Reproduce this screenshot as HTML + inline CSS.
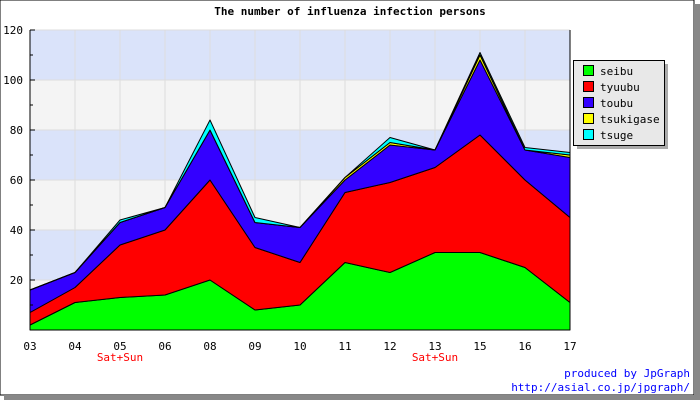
<!DOCTYPE html>
<html><head><meta charset="utf-8"><style>
body{margin:0;background:#fff}
svg text{font-family:"DejaVu Sans Mono","Liberation Mono",monospace;font-size:11px}
</style></head><body>
<svg id="chart" width="700" height="400" xmlns="http://www.w3.org/2000/svg">
<rect x="0" y="0" width="694" height="395" fill="#fff" stroke="#000" stroke-width="1"/>
<rect x="694" y="4" width="6" height="396" fill="#888"/>
<rect x="4" y="395" width="696" height="5" fill="#888"/>
<text x="350" y="15" text-anchor="middle" font-weight="bold" style="font-size:11px">The number of influenza infection persons</text>
<g id="bands"></g><g id="grid"></g><g id="areas"></g><g id="axes"></g>
<g>
<rect x="577" y="64" width="91" height="85" fill="#aaa"/>
<rect x="573.5" y="60.5" width="91" height="85" fill="#e8e8e8" stroke="#000"/>
<g id="legend"></g>
</g>
<text x="690" y="377" text-anchor="end" fill="#00f">produced by JpGraph</text>
<text x="690" y="391" text-anchor="end" fill="#00f">http://asial.co.jp/jpgraph/</text>
</svg>
<script>
const categories=["03","04","05","06","08","09","10","11","12","13","15","16","17"];
const seibu=[2,11,13,14,20,8,10,27,23,31,31,25,11];
const tyuubu=[5,6,21,26,40,25,17,28,36,34,47,35,34];
const toubu=[9,6,9,9,20,10,14,5,15,7,30,12,24];
const tsukigase=[0,0,0,0,0,0,0,1,1,0,2,0,1];
const tsuge=[0,0,1,0,4,2,0,0,2,0,1,1,1];
const seriesNames=["seibu","tyuubu","toubu","tsukigase","tsuge"];
const seriesColors=["#00ff00","#ff0000","#3300ff","#ffff00","#00ffff"];
const yTicks=[20,40,60,80,100,120];
const weekendLabels=["05","13"];
const NS="http://www.w3.org/2000/svg";
const X0=30,X1=570,Y0=330,Y1=30,YMAX=120;
const xs=i=>X0+i*(X1-X0)/(categories.length-1);
const ys=v=>Y0-v*(Y0-Y1)/YMAX;
function mk(p,t,a){const e=document.createElementNS(NS,t);for(const k in a)e.setAttribute(k,a[k]);p.appendChild(e);return e;}
const bands=document.getElementById('bands');
for(let v=0;v<YMAX;v+=20){
 const r=mk(bands,'rect',{x:X0,y:ys(v+20),width:X1-X0,height:ys(v)-ys(v+20),fill:(v/20)%2?'#dae3fa':'#f4f4f4'});
 
 
}
const grid=document.getElementById('grid');
categories.forEach((c,i)=>{const l=mk(grid,'line',{x1:xs(i),x2:xs(i),y1:Y1,y2:Y0,stroke:'#ddd'});
 
 });
yTicks.forEach(v=>{const l=mk(grid,'line',{x1:X0,x2:X1,y1:ys(v),y2:ys(v),stroke:'#ddd'});
 
 });
const data=[seibu,tyuubu,toubu,tsukigase,tsuge];
const areas=document.getElementById('areas');
let base=categories.map(()=>0);
data.forEach((s,k)=>{
 const top=base.map((b,i)=>b+s[i]);
 let d=top.map((v,i)=>(i?'L':'M')+xs(i)+','+ys(v)).join(' ');
 for(let i=categories.length-1;i>=0;i--)d+=' L'+xs(i)+','+ys(base[i]);
 const p=mk(areas,'path',{d:d+'Z',fill:seriesColors[k],stroke:'#000','stroke-width':1,'stroke-linejoin':'round'});
 
 
 base=top;
});
const axes=document.getElementById('axes');
const xa=mk(axes,'line',{x1:X0,x2:X1,y1:Y0,y2:Y0,stroke:'#000'});


const ya=mk(axes,'line',{x1:X0,x2:X0,y1:Y0,y2:Y1,stroke:'#000'});


const yb=mk(axes,'line',{x1:X1,x2:X1,y1:Y0,y2:Y1,stroke:'#000'});


for(let v=10;v<=YMAX;v+=10){const t=mk(axes,'line',{x1:X0,x2:X0+(v%20?3:5),y1:ys(v),y2:ys(v),stroke:'#000'});
 
 }
yTicks.forEach(v=>{const t=mk(axes,'text',{x:X0-7,y:ys(v)+4,'text-anchor':'end'});t.textContent=v;
 
 });
categories.forEach((c,i)=>{const t=mk(axes,'text',{x:xs(i),y:Y0+20,'text-anchor':'middle'});t.textContent=c;
 
 
 if(weekendLabels.includes(c)){const w=mk(axes,'text',{x:xs(i)+(i===2?45:0)*0,y:Y0+31,'text-anchor':'middle',fill:'#f00'});
  w.textContent='Sat+Sun';
  
  }
});
const lg=document.getElementById('legend');
seriesNames.forEach((n,k)=>{
 const y=65+k*16;
 const r=mk(lg,'rect',{x:583.5,y:y+0.5,width:10,height:10,fill:seriesColors[k],stroke:'#000'});
 
 
 const t=mk(lg,'text',{x:600,y:y+10});t.textContent=n;
 
 
});
</script>
</body></html>
